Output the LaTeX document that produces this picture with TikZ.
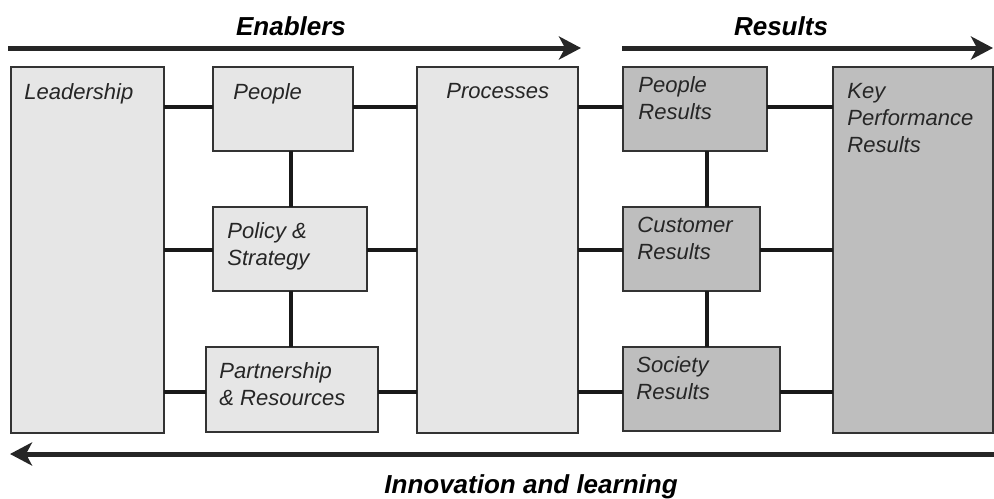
\documentclass[tikz,border=0pt]{standalone}
\usepackage{fontspec}
\setmainfont{Liberation Sans}
\usetikzlibrary{positioning,arrows.meta}

\definecolor{boxlight}{HTML}{E6E6E6}
\definecolor{boxdark}{HTML}{BEBEBE}
\definecolor{boxedge}{HTML}{333333}

\tikzset{
  box/.style={draw=boxedge, line width=0.75pt, anchor=north west, inner sep=0pt, outer sep=0pt},
  enabler/.style={box, fill=boxlight},
  result/.style={box, fill=boxdark},
  boxtext/.style={inner sep=0pt, align=left, text=black!85,
    font=\fontsize{11}{13.5}\selectfont\itshape},
  heading/.style={inner sep=0pt, font=\fontsize{13}{15}\selectfont\bfseries\itshape},
  link/.style={line width=2pt, black!90},
  flow/.style={line width=2.5pt, black!85, -{Stealth[length=11pt, width=11.5pt, inset=3pt]}},
}

\begin{document}
\begin{tikzpicture}[x=0.5pt, y=-0.5pt]
  \useasboundingbox (0,0) rectangle (994,498);

  % Rows and columns of the links
  \coordinate (row1) at (0,107);
  \coordinate (row2) at (0,250);
  \coordinate (row3) at (0,392);
  \coordinate (colL) at (291,0);
  \coordinate (colR) at (707,0);

  % Enabler boxes
  \node[enabler, minimum width=76.5pt, minimum height=183pt] (lead) at (11,67) {};
  \node[enabler, minimum width=70pt, minimum height=42pt] (people) at (213,67) {};
  \node[enabler, minimum width=77pt, minimum height=42pt] (policy) at (213,207) {};
  \node[enabler, minimum width=86pt, minimum height=42.5pt] (partner) at (206,347) {};
  \node[enabler, minimum width=80.5pt, minimum height=183pt] (proc) at (417,67) {};

  % Result boxes
  \node[result, minimum width=72pt, minimum height=42pt] (pres) at (623,67) {};
  \node[result, minimum width=68.5pt, minimum height=42pt] (cres) at (623,207) {};
  \node[result, minimum width=78.5pt, minimum height=42pt] (sres) at (623,347) {};
  \node[result, minimum width=80pt, minimum height=183pt] (kpr) at (833,67) {};

  % Box texts
  \node[boxtext, below right=6.45pt and 6.5pt of lead.north west] (t-lead) {\strut Leadership};
  \node[boxtext, below right=6.45pt and 10pt of people.north west] (t-people) {\strut People};
  \node[boxtext, below right=6pt and 7pt of policy.north west] (t-policy) {\strut Policy \&\\Strategy};
  \node[boxtext, below right=6pt and 6.5pt of partner.north west] (t-partner) {\strut Partnership\\\& Resources};
  \node[boxtext, below right=6pt and 14.5pt of proc.north west] (t-proc) {\strut Processes};
  \node[boxtext, below right=3pt and 7.5pt of pres.north west] (t-pres) {\strut People\\Results};
  \node[boxtext, below right=3pt and 7pt of cres.north west] (t-cres) {\strut Customer\\Results};
  \node[boxtext, below right=3pt and 6.5pt of sres.north west] (t-sres) {\strut Society\\Results};
  \node[boxtext, below right=6pt and 7pt of kpr.north west] (t-kpr) {\strut Key\\Performance\\Results};

  % Horizontal links
  \draw[link] (lead.east |- row1) -- (people.west |- row1);
  \draw[link] (people.east |- row1) -- (proc.west |- row1);
  \draw[link] (proc.east |- row1) -- (pres.west |- row1);
  \draw[link] (pres.east |- row1) -- (kpr.west |- row1);
  \draw[link] (lead.east |- row2) -- (policy.west |- row2);
  \draw[link] (policy.east |- row2) -- (proc.west |- row2);
  \draw[link] (proc.east |- row2) -- (cres.west |- row2);
  \draw[link] (cres.east |- row2) -- (kpr.west |- row2);
  \draw[link] (lead.east |- row3) -- (partner.west |- row3);
  \draw[link] (partner.east |- row3) -- (proc.west |- row3);
  \draw[link] (proc.east |- row3) -- (sres.west |- row3);
  \draw[link] (sres.east |- row3) -- (kpr.west |- row3);

  % Vertical links
  \draw[link] (people.south -| colL) -- (policy.north -| colL);
  \draw[link] (policy.south -| colL) -- (partner.north -| colL);
  \draw[link] (pres.south -| colR) -- (cres.north -| colR);
  \draw[link] (cres.south -| colR) -- (sres.north -| colR);

  % Flow arrows
  \coordinate (en-start) at (8,48);
  \coordinate (en-end) at (581,48);
  \coordinate (re-start) at (622,48);
  \coordinate (re-end) at (993,48);
  \coordinate (in-start) at (994,454);
  \coordinate (in-end) at (10,454);
  \draw[flow] (en-start) -- (en-end);
  \draw[flow] (re-start) -- (re-end);
  \draw[flow] (in-start) -- (in-end);

  % Headings
  \node[heading, anchor=base] (enablers) at (291,35) {Enablers};
  \node[heading, anchor=base] (results) at (781,35) {Results};
  \node[heading, anchor=base] (innovation) at (531,493) {Innovation and learning};
\end{tikzpicture}
\end{document}
